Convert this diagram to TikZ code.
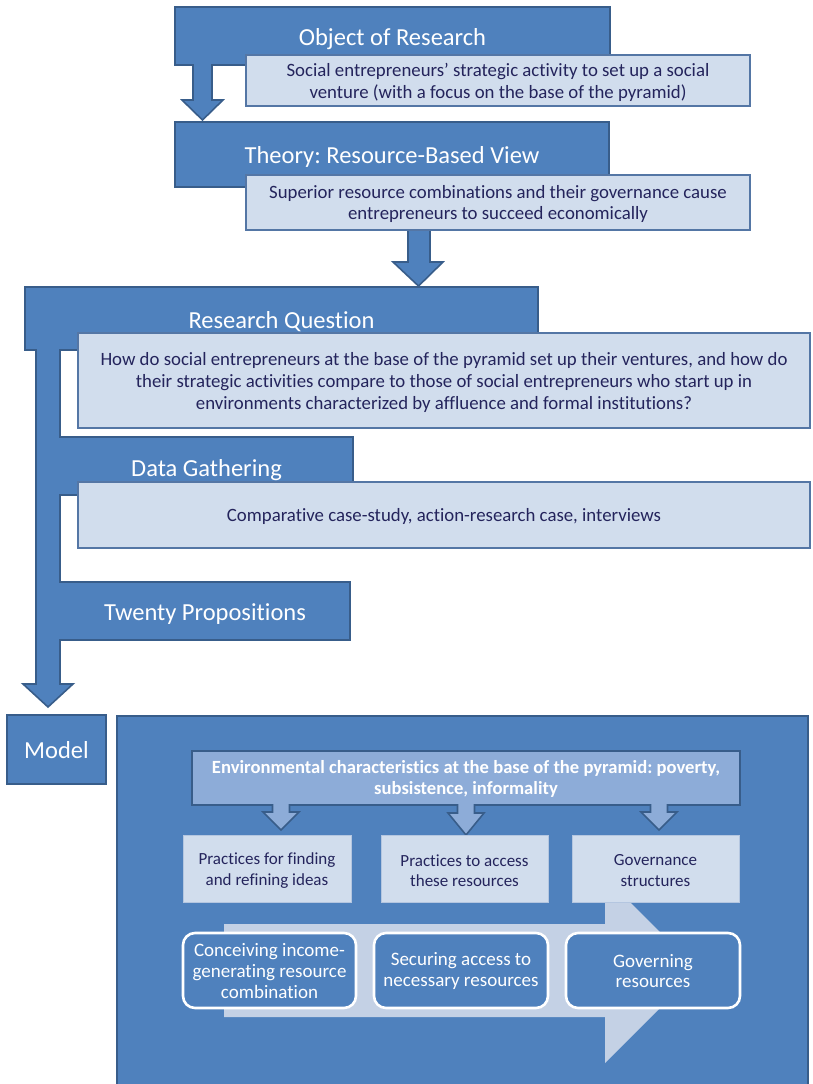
\documentclass[tikz,border=0pt]{standalone}
\usepackage{fontspec}
\setmainfont{Carlito}[Ligatures=NoCommon]
\frenchspacing
\definecolor{dkfill}{RGB}{79,129,189}
\definecolor{dkline}{RGB}{56,93,138}
\definecolor{ltfill}{RGB}{209,221,237}
\definecolor{ltline}{RGB}{84,118,165}
\definecolor{navy}{RGB}{36,36,92}
\definecolor{envfill}{RGB}{141,172,216}
\definecolor{chevfill}{RGB}{196,209,229}
\definecolor{softline}{RGB}{180,198,224}
\begin{document}
\frenchspacing
\begin{tikzpicture}[x=1pt,y=-1pt,line join=miter,
  dark/.style={fill=dkfill,draw=dkline,line width=1.6pt},
  light/.style={fill=ltfill,draw=ltline,line width=1.3pt},
  title/.style={text=white,font=\frenchspacing\fontsize{24.5}{29}\selectfont,inner sep=0pt,anchor=base},
  ltext/.style={text=navy,font=\frenchspacing\fontsize{18.8}{21.8}\selectfont,align=center,inner sep=0pt},
  qtext/.style={text=navy,font=\frenchspacing\fontsize{18.8}{22}\selectfont,align=center,inner sep=0pt},
  subbox/.style={fill=ltfill,draw=softline,line width=0.8pt},
  subtext/.style={text=navy,font=\fontsize{17}{20.5}\selectfont,align=center,inner sep=0pt},
  roundbox/.style={fill=dkfill,draw=white,line width=2.6pt,rounded corners=12pt},
  rtext/.style={text=white,font=\fontsize{19}{20.8}\selectfont,align=center,inner sep=0pt}]
\useasboundingbox (0,0) rectangle (812,1084);
\fill[white] (0,0) rectangle (812,1084);

% ---- Object of Research
\draw[dark] (175,7) -- (610,7) -- (610,65) -- (212,65) -- (212,100) -- (223,100)
  -- (202.5,120) -- (182,100) -- (193,100) -- (193,65) -- (175,65) -- cycle;
\node[title] (obj) at (392.5,45) {Object of Research};
\draw[light] (246,55) rectangle (750,106);
\node[ltext] (objtxt) at (498,82) {Social entrepreneurs’ strategic activity to set up a social\\venture (with a focus on the base of the pyramid)};

% ---- Theory
\draw[dark] (175,122) -- (609,122) -- (609,187) -- (430,187) -- (430,262) -- (443,262)
  -- (418.5,286) -- (393,262) -- (408,262) -- (408,187) -- (175,187) -- cycle;
\node[title] (theory) at (392,163) {Theory: Resource-Based View};
\draw[light] (246,175) rectangle (750,230);
\node[ltext] (theorytxt) at (498,204) {Superior resource combinations and their governance cause\\entrepreneurs to succeed economically};

% ---- Research question / data gathering / propositions trunk
\draw[dark] (25,287) -- (538,287) -- (538,350) -- (60,350) -- (60,437) -- (353,437)
  -- (353,495) -- (60,495) -- (60,582) -- (350,582) -- (350,640) -- (60,640)
  -- (60,684) -- (73,684) -- (48,707) -- (23,684) -- (36,684) -- (36,350)
  -- (25,350) -- cycle;
\node[title] (rq) at (281.5,328) {Research Question};
\draw[light] (78,333) rectangle (810,428);
\node[qtext] (rqtxt) at (444,382.5) {How do social entrepreneurs at the base of the pyramid set up their ventures, and how do\\their strategic activities compare to those of social entrepreneurs who start up in\\environments characterized by affluence and formal institutions?};
\node[title] (dg) at (206.5,476) {Data Gathering};
\draw[light] (78,482) rectangle (810,548);
\node[ltext] (dgtxt) at (444,516) {Comparative case-study, action-research case, interviews};
\node[title] (tp) at (205,620) {Twenty Propositions};

% ---- Model
\draw[dark] (7,715) rectangle (106,784);
\node[title] (model) at (56.5,758) {Model};

\draw[dark] (117,716) rectangle (808,1095);

% environment box with three arrows
\draw[fill=envfill,draw=dkline,line width=1.6pt] (192,751) -- (740,751) -- (740,805)
  -- (667.5,805) -- (667.5,812) -- (677,812) -- (659,830) -- (641,812) -- (650.5,812) -- (650.5,805)
  -- (474.5,805) -- (474.5,813) -- (484,813) -- (466,835) -- (448,813) -- (457.5,813) -- (457.5,805)
  -- (289.5,805) -- (289.5,812) -- (299,812) -- (281,830) -- (263,812) -- (272.5,812) -- (272.5,805)
  -- (192,805) -- cycle;
\node[text=white,font=\frenchspacing\bfseries\fontsize{18.6}{21.5}\selectfont,align=center,inner sep=0pt] (env) at (466,779)
  {Environmental characteristics at the base of the pyramid: poverty,\\subsistence, informality};

% process chevron
\fill[chevfill] (224,924) -- (605,924) -- (605,877) -- (698,970) -- (605,1063) -- (605,1017) -- (224,1017) -- cycle;

\draw[subbox] (183,835) rectangle (351,902);
\node[subtext] (pa) at (267,870.5) {Practices for finding\\and refining ideas};
\draw[subbox] (381,835) rectangle (548,902);
\node[subtext] (pb) at (464.5,870.5) {Practices to access\\these resources};
\draw[subbox] (572,835) rectangle (739,902);
\node[subtext] (pc) at (655.5,870.5) {Governance\\structures};

\draw[roundbox] (183,933) rectangle (356,1008);
\node[rtext] (ra) at (269.5,971) {Conceiving income-\\generating resource\\combination};
\draw[roundbox] (374,933) rectangle (548,1008);
\node[rtext] (rb) at (461,971) {Securing access to\\necessary resources};
\draw[roundbox] (566,933) rectangle (740,1008);
\node[rtext] (rc) at (653,971) {Governing\\resources};
\end{tikzpicture}
\end{document}
